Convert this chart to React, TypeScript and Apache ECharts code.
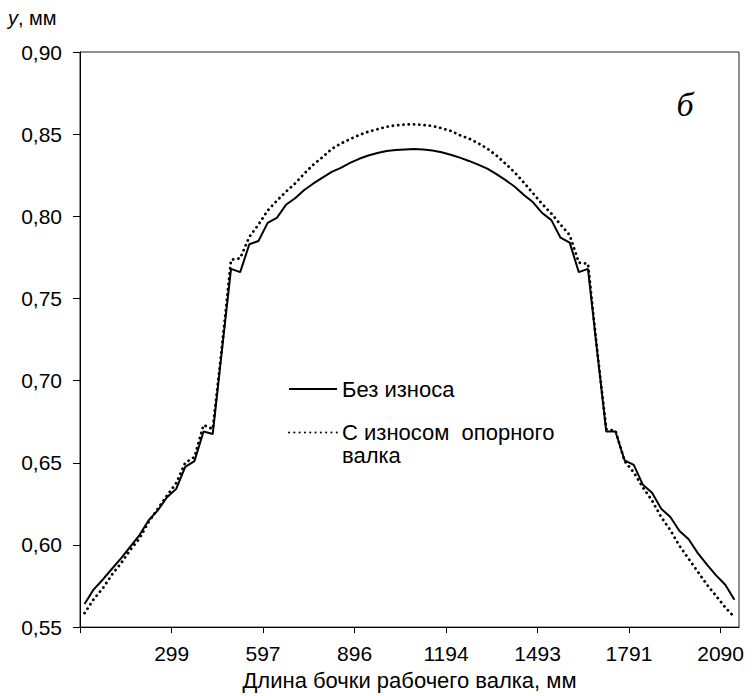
import React, { useEffect, useRef } from "react";
import * as echarts from "echarts";

// Positions along the work-roll barrel, mm
const positionsMm = [
  14.9, 44.8, 74.7, 104.5, 134.4, 164.2, 194.1, 224.0, 253.8, 283.7,
  313.5, 343.4, 373.3, 403.1, 433.0, 462.8, 492.7, 522.6, 552.4, 582.3,
  612.2, 642.0, 671.9, 701.7, 731.6, 761.5, 791.3, 821.2, 851.0, 880.9,
  910.8, 940.6, 970.5, 1000.3, 1030.2, 1060.1, 1089.9, 1119.8, 1149.7, 1179.5,
  1209.4, 1239.2, 1269.1, 1299.0, 1328.8, 1358.7, 1388.5, 1418.4, 1448.3, 1478.1,
  1508.0, 1537.8, 1567.7, 1597.6, 1627.4, 1657.3, 1687.2, 1717.0, 1746.9, 1776.7,
  1806.6, 1836.5, 1866.3, 1896.2, 1926.0, 1955.9, 1985.8, 2015.6, 2045.5, 2075.3,
  2105.2, 2135.1,
];

// "Без износа" (solid)
const noWear = [
  0.564, 0.573, 0.579, 0.5855, 0.592, 0.599, 0.606, 0.615, 0.621, 0.629,
  0.634, 0.6475, 0.651, 0.669, 0.6675, 0.718, 0.768, 0.766, 0.783, 0.785,
  0.796, 0.799, 0.807, 0.811, 0.816, 0.82, 0.8235, 0.827, 0.8295, 0.8325,
  0.835, 0.837, 0.8385, 0.8397, 0.8403, 0.8407, 0.841, 0.8407, 0.84, 0.839,
  0.8375, 0.8357, 0.8337, 0.8315, 0.829, 0.8257, 0.822, 0.818, 0.813, 0.8085,
  0.802, 0.7977, 0.787, 0.784, 0.766, 0.768, 0.718, 0.669, 0.669, 0.6515,
  0.6487, 0.6366, 0.6317, 0.622, 0.617, 0.6085, 0.6035, 0.595, 0.588, 0.5815,
  0.5758, 0.5667,
];

// "С износом опорного валка" (dotted)
const withWear = [
  0.5585, 0.567, 0.5737, 0.582, 0.589, 0.597, 0.604, 0.614, 0.622, 0.63,
  0.6375, 0.65, 0.6535, 0.673, 0.6705, 0.72, 0.7735, 0.7745, 0.7875, 0.795,
  0.8035, 0.8095, 0.815, 0.82, 0.826, 0.8315, 0.836, 0.841, 0.8443, 0.847,
  0.8495, 0.8515, 0.853, 0.8545, 0.8554, 0.8559, 0.856, 0.8556, 0.855, 0.8536,
  0.852, 0.8494, 0.8473, 0.8445, 0.8412, 0.837, 0.832, 0.8267, 0.8205, 0.814,
  0.8075, 0.8017, 0.795, 0.7886, 0.7718, 0.7712, 0.7185, 0.6705, 0.6695, 0.651,
  0.6442, 0.635, 0.627, 0.617, 0.609, 0.5995, 0.5915, 0.5837, 0.5758, 0.569,
  0.562, 0.556,
];

const xTickLabels = [299, 597, 896, 1194, 1493, 1791, 2090];
const seriesNames = ["Без износа", "С износом  опорного\nвалка"];

const FONT = "'Liberation Sans', Arial, sans-serif";

export default function App() {
  const ref = useRef<HTMLDivElement>(null);

  useEffect(() => {
    if (!ref.current) return;
    const chart = echarts.init(ref.current, null, { renderer: "svg" });
    chart.setOption({
      animation: false,
      backgroundColor: "#ffffff",
      grid: {
        left: 80,
        right: 15,
        top: 52,
        bottom: 65,
        show: true,
        borderColor: "#222",
        borderWidth: 1,
        backgroundColor: "transparent",
      },
      xAxis: {
        type: "value",
        min: 0,
        max: 2150,
        axisLine: { show: true, onZero: false, lineStyle: { color: "#000", width: 1 } },
        axisTick: {
          show: true,
          length: 6,
          customValues: [0, ...xTickLabels],
          lineStyle: { color: "#000", width: 1 },
        },
        axisLabel: {
          customValues: xTickLabels,
          formatter: (v: number) => String(Math.round(v)),
          color: "#000",
          fontSize: 21,
          fontFamily: FONT,
          margin: 16,
        },
        splitLine: { show: false },
        name: "Длина бочки рабочего валка, мм",
        nameLocation: "middle",
        nameGap: 40,
        nameTextStyle: { color: "#000", fontSize: 22, fontFamily: FONT },
      },
      yAxis: {
        type: "value",
        min: 0.55,
        max: 0.9,
        interval: 0.05,
        axisLine: { show: true, onZero: false, lineStyle: { color: "#000", width: 1 } },
        axisTick: { show: true, length: 7, lineStyle: { color: "#000", width: 1 } },
        axisLabel: {
          formatter: (v: number) => v.toFixed(2).replace(".", ","),
          color: "#000",
          fontSize: 21,
          fontFamily: FONT,
          margin: 18,
        },
        splitLine: { show: false },
      },
      legend: [
        {
          data: [seriesNames[0]],
          left: 288,
          top: 378,
          padding: 0,
          itemWidth: 48,
          itemHeight: 26,
          itemStyle: { opacity: 0 },
          textStyle: { color: "#000", fontSize: 22, fontFamily: FONT },
        },
        {
          data: [seriesNames[1]],
          left: 288,
          top: 398,
          padding: 0,
          itemWidth: 48,
          itemHeight: 26,
          itemStyle: { opacity: 0 },
          formatter: (name: string) => "\n" + name,
          textStyle: {
            color: "#000",
            fontSize: 22,
            fontFamily: FONT,
            lineHeight: 23,
          },
        },
      ],
      graphic: [
        {
          type: "text",
          left: 8,
          top: 8,
          style: {
            text: "{i|y}{n|, мм}",
            rich: {
              i: { fontSize: 20, fontStyle: "italic", fontFamily: FONT, fill: "#000" },
              n: { fontSize: 20, fontFamily: FONT, fill: "#000" },
            },
          },
        },
        {
          type: "text",
          x: 685,
          y: 104,
          style: {
            text: "б",
            fontSize: 34,
            fontStyle: "italic",
            fontFamily: "'Liberation Serif', 'Times New Roman', serif",
            fill: "#000",
            align: "center",
            verticalAlign: "middle",
          },
        },
      ],
      series: [
        {
          name: seriesNames[0],
          type: "line",
          data: positionsMm.map((x, i) => [x, noWear[i]]),
          symbol: "none",
          showSymbol: false,
          lineStyle: { color: "#000", width: 2 },
          itemStyle: { color: "#000" },
        },
        {
          name: seriesNames[1],
          type: "line",
          data: positionsMm.map((x, i) => [x, withWear[i]]),
          symbol: "none",
          showSymbol: false,
          lineStyle: { color: "#000", width: 2.8, type: [0.1, 5.2], cap: "round" },
          itemStyle: { color: "#000" },
        },
      ],
    });
    return () => chart.dispose();
  }, []);

  return (
    <div
      ref={ref}
      style={{ position: "fixed", left: 0, top: 0, width: 754, height: 696, background: "#fff" }}
    />
  );
}
